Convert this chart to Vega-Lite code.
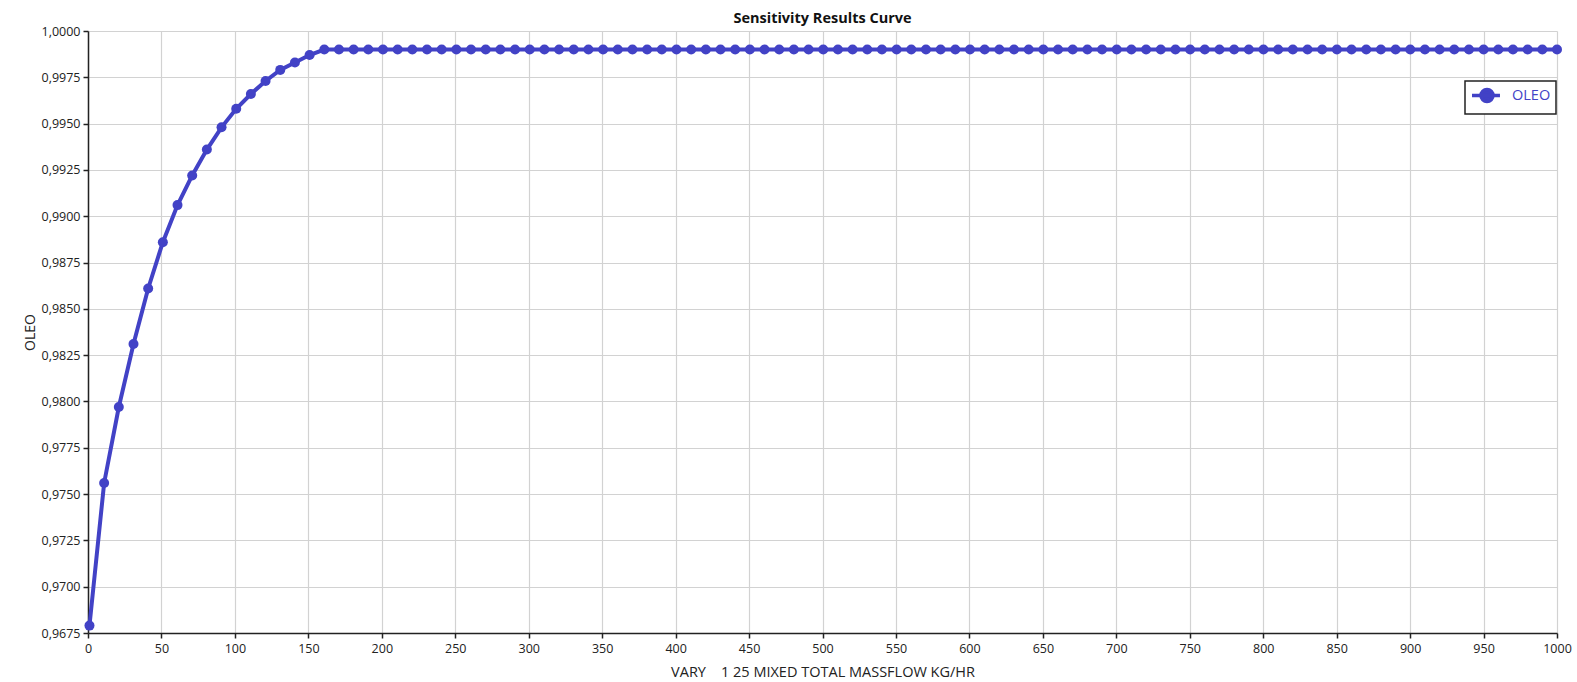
{
  "$schema": "https://vega.github.io/schema/vega-lite/v6.json",
  "width": 1469,
  "height": 602,
  "autosize": {"type": "none"},
  "padding": {"left": 88, "top": 31, "right": 20, "bottom": 49},
  "background": "white",
  "config": {
    "font": "Open Sans",
    "view": {"stroke": null},
    "legend": {"strokeWidth": 1.5},
    "axis": {
      "gridColor": "#d2d2d2",
      "gridWidth": 1.2,
      "domainColor": "#222",
      "domainWidth": 1.5,
      "tickColor": "#222",
      "tickWidth": 1.5,
      "tickSize": 5,
      "labelFont": "Open Sans",
      "labelFontSize": 12.5,
      "labelColor": "#222",
      "titleFont": "Open Sans",
      "titleFontSize": 14,
      "titleFontWeight": "normal",
      "titleColor": "#222"
    }
  },
  "title": {
    "text": "Sensitivity Results Curve",
    "font": "Open Sans",
    "fontSize": 14.5,
    "fontWeight": "bold",
    "color": "#111",
    "anchor": "middle",
    "offset": -1
  },
  "data": {
    "values": [
      {"x": 1, "y": 0.9679, "s": "OLEO"},
      {"x": 10.99, "y": 0.9756, "s": "OLEO"},
      {"x": 20.98, "y": 0.9797, "s": "OLEO"},
      {"x": 30.97, "y": 0.9831, "s": "OLEO"},
      {"x": 40.96, "y": 0.9861, "s": "OLEO"},
      {"x": 50.95, "y": 0.9886, "s": "OLEO"},
      {"x": 60.94, "y": 0.9906, "s": "OLEO"},
      {"x": 70.93, "y": 0.9922, "s": "OLEO"},
      {"x": 80.92, "y": 0.9936, "s": "OLEO"},
      {"x": 90.91, "y": 0.9948, "s": "OLEO"},
      {"x": 100.9, "y": 0.9958, "s": "OLEO"},
      {"x": 110.89, "y": 0.9966, "s": "OLEO"},
      {"x": 120.88, "y": 0.9973, "s": "OLEO"},
      {"x": 130.87, "y": 0.9979, "s": "OLEO"},
      {"x": 140.86, "y": 0.9983, "s": "OLEO"},
      {"x": 150.85, "y": 0.9987, "s": "OLEO"},
      {"x": 160.84, "y": 0.999, "s": "OLEO"},
      {"x": 170.83, "y": 0.999, "s": "OLEO"},
      {"x": 180.82, "y": 0.999, "s": "OLEO"},
      {"x": 190.81, "y": 0.999, "s": "OLEO"},
      {"x": 200.8, "y": 0.999, "s": "OLEO"},
      {"x": 210.79, "y": 0.999, "s": "OLEO"},
      {"x": 220.78, "y": 0.999, "s": "OLEO"},
      {"x": 230.77, "y": 0.999, "s": "OLEO"},
      {"x": 240.76, "y": 0.999, "s": "OLEO"},
      {"x": 250.75, "y": 0.999, "s": "OLEO"},
      {"x": 260.74, "y": 0.999, "s": "OLEO"},
      {"x": 270.73, "y": 0.999, "s": "OLEO"},
      {"x": 280.72, "y": 0.999, "s": "OLEO"},
      {"x": 290.71, "y": 0.999, "s": "OLEO"},
      {"x": 300.7, "y": 0.999, "s": "OLEO"},
      {"x": 310.69, "y": 0.999, "s": "OLEO"},
      {"x": 320.68, "y": 0.999, "s": "OLEO"},
      {"x": 330.67, "y": 0.999, "s": "OLEO"},
      {"x": 340.66, "y": 0.999, "s": "OLEO"},
      {"x": 350.65, "y": 0.999, "s": "OLEO"},
      {"x": 360.64, "y": 0.999, "s": "OLEO"},
      {"x": 370.63, "y": 0.999, "s": "OLEO"},
      {"x": 380.62, "y": 0.999, "s": "OLEO"},
      {"x": 390.61, "y": 0.999, "s": "OLEO"},
      {"x": 400.6, "y": 0.999, "s": "OLEO"},
      {"x": 410.59, "y": 0.999, "s": "OLEO"},
      {"x": 420.58, "y": 0.999, "s": "OLEO"},
      {"x": 430.57, "y": 0.999, "s": "OLEO"},
      {"x": 440.56, "y": 0.999, "s": "OLEO"},
      {"x": 450.55, "y": 0.999, "s": "OLEO"},
      {"x": 460.54, "y": 0.999, "s": "OLEO"},
      {"x": 470.53, "y": 0.999, "s": "OLEO"},
      {"x": 480.52, "y": 0.999, "s": "OLEO"},
      {"x": 490.51, "y": 0.999, "s": "OLEO"},
      {"x": 500.5, "y": 0.999, "s": "OLEO"},
      {"x": 510.49, "y": 0.999, "s": "OLEO"},
      {"x": 520.48, "y": 0.999, "s": "OLEO"},
      {"x": 530.47, "y": 0.999, "s": "OLEO"},
      {"x": 540.46, "y": 0.999, "s": "OLEO"},
      {"x": 550.45, "y": 0.999, "s": "OLEO"},
      {"x": 560.44, "y": 0.999, "s": "OLEO"},
      {"x": 570.43, "y": 0.999, "s": "OLEO"},
      {"x": 580.42, "y": 0.999, "s": "OLEO"},
      {"x": 590.41, "y": 0.999, "s": "OLEO"},
      {"x": 600.4, "y": 0.999, "s": "OLEO"},
      {"x": 610.39, "y": 0.999, "s": "OLEO"},
      {"x": 620.38, "y": 0.999, "s": "OLEO"},
      {"x": 630.37, "y": 0.999, "s": "OLEO"},
      {"x": 640.36, "y": 0.999, "s": "OLEO"},
      {"x": 650.35, "y": 0.999, "s": "OLEO"},
      {"x": 660.34, "y": 0.999, "s": "OLEO"},
      {"x": 670.33, "y": 0.999, "s": "OLEO"},
      {"x": 680.32, "y": 0.999, "s": "OLEO"},
      {"x": 690.31, "y": 0.999, "s": "OLEO"},
      {"x": 700.3, "y": 0.999, "s": "OLEO"},
      {"x": 710.29, "y": 0.999, "s": "OLEO"},
      {"x": 720.28, "y": 0.999, "s": "OLEO"},
      {"x": 730.27, "y": 0.999, "s": "OLEO"},
      {"x": 740.26, "y": 0.999, "s": "OLEO"},
      {"x": 750.25, "y": 0.999, "s": "OLEO"},
      {"x": 760.24, "y": 0.999, "s": "OLEO"},
      {"x": 770.23, "y": 0.999, "s": "OLEO"},
      {"x": 780.22, "y": 0.999, "s": "OLEO"},
      {"x": 790.21, "y": 0.999, "s": "OLEO"},
      {"x": 800.2, "y": 0.999, "s": "OLEO"},
      {"x": 810.19, "y": 0.999, "s": "OLEO"},
      {"x": 820.18, "y": 0.999, "s": "OLEO"},
      {"x": 830.17, "y": 0.999, "s": "OLEO"},
      {"x": 840.16, "y": 0.999, "s": "OLEO"},
      {"x": 850.15, "y": 0.999, "s": "OLEO"},
      {"x": 860.14, "y": 0.999, "s": "OLEO"},
      {"x": 870.13, "y": 0.999, "s": "OLEO"},
      {"x": 880.12, "y": 0.999, "s": "OLEO"},
      {"x": 890.11, "y": 0.999, "s": "OLEO"},
      {"x": 900.1, "y": 0.999, "s": "OLEO"},
      {"x": 910.09, "y": 0.999, "s": "OLEO"},
      {"x": 920.08, "y": 0.999, "s": "OLEO"},
      {"x": 930.07, "y": 0.999, "s": "OLEO"},
      {"x": 940.06, "y": 0.999, "s": "OLEO"},
      {"x": 950.05, "y": 0.999, "s": "OLEO"},
      {"x": 960.04, "y": 0.999, "s": "OLEO"},
      {"x": 970.03, "y": 0.999, "s": "OLEO"},
      {"x": 980.02, "y": 0.999, "s": "OLEO"},
      {"x": 990.01, "y": 0.999, "s": "OLEO"},
      {"x": 1000, "y": 0.999, "s": "OLEO"}
    ]
  },
  "mark": {
    "type": "line",
    "strokeWidth": 4,
    "clip": false,
    "point": {"filled": true, "size": 100, "opacity": 1}
  },
  "encoding": {
    "x": {
      "field": "x",
      "type": "quantitative",
      "scale": {"domain": [0, 1000], "nice": false, "zero": false},
      "axis": {
        "title": "VARY\u00a0\u00a0\u00a0 1 25 MIXED TOTAL MASSFLOW KG/HR",
        "titleFontSize": 14.5,
        "values": [0, 50, 100, 150, 200, 250, 300, 350, 400, 450, 500, 550, 600, 650, 700, 750, 800, 850, 900, 950, 1000],
        "format": "d",
        "labelPadding": 4,
        "titlePadding": 11,
        "labelFlush": false
      }
    },
    "y": {
      "field": "y",
      "type": "quantitative",
      "scale": {"domain": [0.9675, 1.0], "nice": false, "zero": false},
      "axis": {
        "title": "OLEO",
        "values": [0.9675, 0.97, 0.9725, 0.975, 0.9775, 0.98, 0.9825, 0.985, 0.9875, 0.99, 0.9925, 0.995, 0.9975, 1.0],
        "labelExpr": "replace(format(datum.value, '.4f'), '.', ',')",
        "labelPadding": 3,
        "titlePadding": 4,
        "labelFlush": false
      }
    },
    "color": {
      "field": "s",
      "type": "nominal",
      "scale": {"range": ["#4242c6"]},
      "legend": {
        "title": null,
        "orient": "none",
        "legendX": 1377,
        "legendY": 50,
        "padding": 5,
        "strokeColor": "#222",
        "fillColor": "white",
        "cornerRadius": 0,
        "symbolType": "M-1,0L2.73,0M0.2,0A0.8,0.8,0,1,0,1.8,0A0.8,0.8,0,1,0,0.2,0Z",
        "symbolSize": 225,
        "symbolStrokeWidth": 3.5,
        "symbolFillColor": "#4242c6",
        "symbolStrokeColor": "#4242c6",
        "symbolOpacity": 1,
        "labelColor": "#4242c6",
        "labelFont": "Open Sans",
        "labelFontSize": 14.5,
        "labelOffset": 23,
        "labelExpr": "datum.label + '\u00a0\u00a0'"
      }
    }
  }
}
